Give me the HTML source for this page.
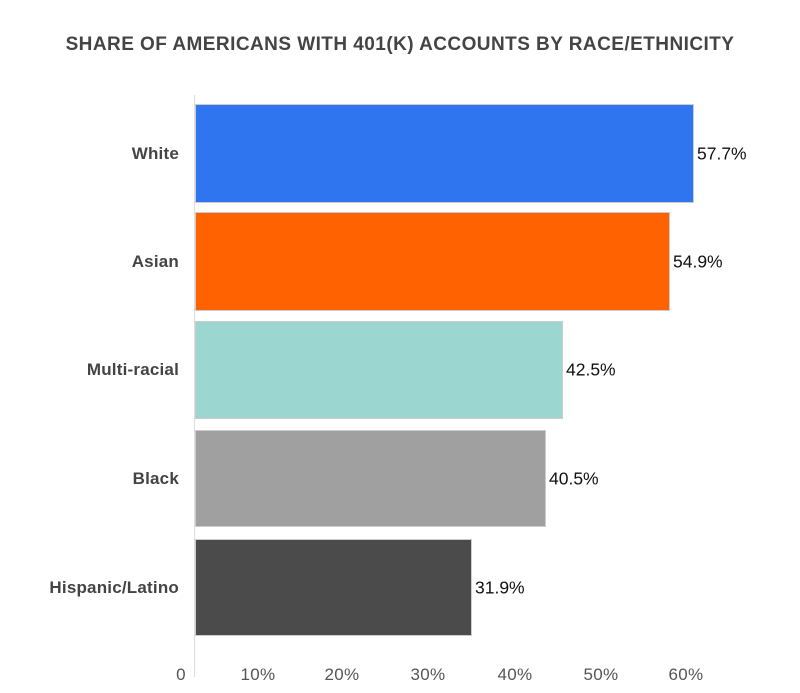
<!DOCTYPE html>
<html><head><style>
body{margin:0;background:#fff;width:800px;height:693px;overflow:hidden;font-family:"Liberation Sans",sans-serif;}
.t{position:absolute;white-space:nowrap}
.bar{position:absolute;left:195px;box-sizing:border-box;border:1px solid #ccc}
.cat{position:absolute;right:621px;font-size:17px;font-weight:bold;color:#444;transform:translateY(-50%);letter-spacing:0.2px}
.val{position:absolute;font-size:17.5px;color:#111;transform:translateY(-50%)}
.tick{position:absolute;top:665px;font-size:17px;color:#555;transform:translateX(-50%);letter-spacing:0.3px}
</style></head><body>
<div class="t" style="left:0;width:800px;text-align:center;top:34px;font-size:19px;font-weight:bold;color:#444;letter-spacing:0.45px">SHARE OF AMERICANS WITH 401(K) ACCOUNTS BY RACE/ETHNICITY</div>
<div style="position:absolute;left:194px;top:95px;width:1px;height:582px;background:#ddd"></div>

<div class="bar" style="top:104px;height:99px;width:499px;background:#2f75ef"></div>
<div class="bar" style="top:212px;height:99px;width:475px;background:#ff6200"></div>
<div class="bar" style="top:321px;height:98px;width:368px;background:#9bd6d0"></div>
<div class="bar" style="top:430px;height:97px;width:351px;background:#a0a0a0"></div>
<div class="bar" style="top:539px;height:97px;width:277px;background:#4b4b4b"></div>

<div class="cat t" style="top:154px">White</div>
<div class="cat t" style="top:262px">Asian</div>
<div class="cat t" style="top:370px">Multi-racial</div>
<div class="cat t" style="top:479px">Black</div>
<div class="cat t" style="top:588px">Hispanic/Latino</div>

<div class="val t" style="left:697px;top:154px">57.7%</div>
<div class="val t" style="left:673px;top:262px">54.9%</div>
<div class="val t" style="left:566px;top:370px">42.5%</div>
<div class="val t" style="left:549px;top:479px">40.5%</div>
<div class="val t" style="left:475px;top:588px">31.9%</div>

<div class="tick t" style="left:181px">0</div>
<div class="tick t" style="left:258px">10%</div>
<div class="tick t" style="left:342px">20%</div>
<div class="tick t" style="left:428px">30%</div>
<div class="tick t" style="left:515px">40%</div>
<div class="tick t" style="left:601px">50%</div>
<div class="tick t" style="left:686px">60%</div>
</body></html>
